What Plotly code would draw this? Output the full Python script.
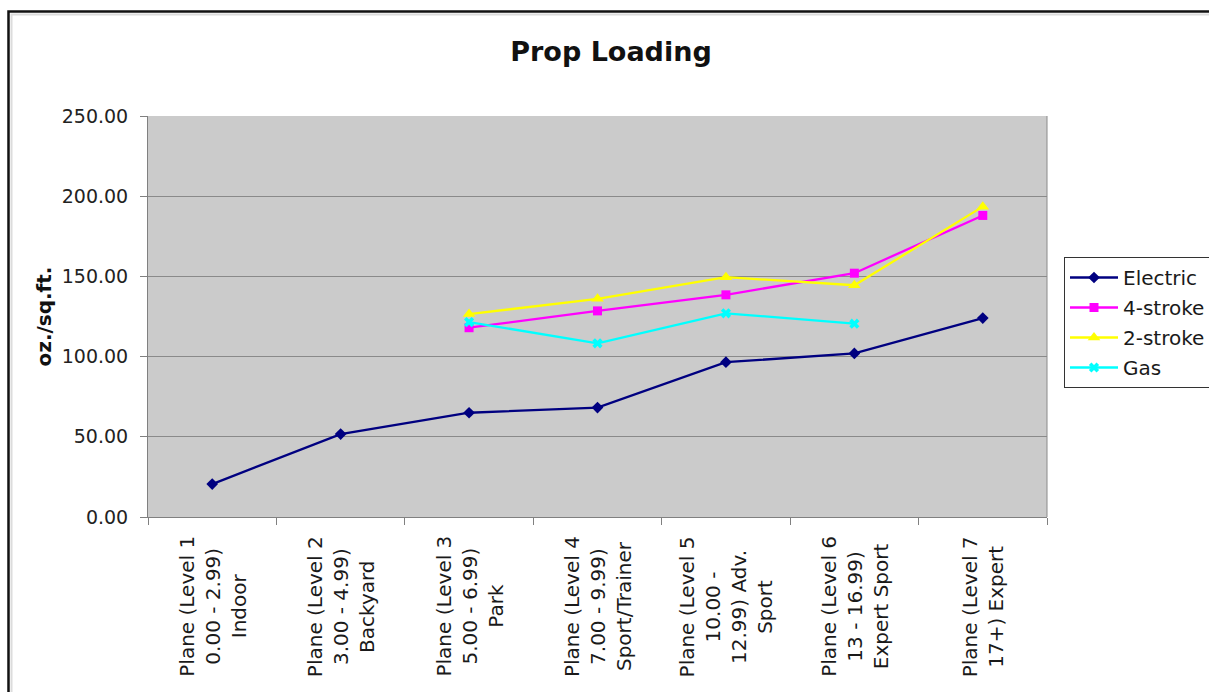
import plotly.graph_objects as go

categories = [
    "Plane (Level 1<br>0.00 - 2.99)<br>Indoor",
    "Plane (Level 2<br>3.00 - 4.99)<br>Backyard",
    "Plane (Level 3<br>5.00 - 6.99)<br>Park",
    "Plane (Level 4<br>7.00 - 9.99)<br>Sport/Trainer",
    "Plane (Level 5<br>10.00 -<br>12.99) Adv.<br>Sport",
    "Plane (Level 6<br>13 - 16.99)<br>Expert Sport",
    "Plane (Level 7<br>17+) Expert",
]
electric = [20.5, 51.7, 65.0, 68.2, 96.5, 102.0, 124.0]
four_stroke = [None, None, 118.0, 128.5, 138.5, 152.0, 188.0]
two_stroke = [None, None, 126.5, 136.0, 149.5, 144.5, 193.5]
gas = [None, None, 121.5, 108.3, 127.0, 120.5, None]

y_ticks = [0, 50, 100, 150, 200, 250]
title_text = "Prop Loading"
y_title = "oz./sq.ft."

FONT = "DejaVu Sans"

series = [
    ("Electric", electric, "#000080", "diamond", 9),
    ("4-stroke", four_stroke, "#FF00FF", "square", 9),
    ("2-stroke", two_stroke, "#FFFF00", "triangle-up", 11),
    ("Gas", gas, "#00FFFF", "x", 9),
]

fig = go.Figure()
for i, (name, vals, color, sym, size) in enumerate(series):
    fig.add_trace(go.Scatter(
        x=categories, y=vals, name=name, mode="lines+markers",
        line=dict(color=color, width=2.3),
        marker=dict(symbol=sym, size=size, color=color, line=dict(width=0)),
        legendgroup="g%d" % i,
    ))

W, H = 1209, 692
L, R, T, B = 148, 162, 116, 175
pw, ph = W - L - R, H - T - B

def px_x(x):
    return (x - L) / pw

def px_y(y):
    return (H - B - y) / ph

annotations = []
for c in categories:
    annotations.append(dict(
        x=c, xref="x", y=0, yref="paper", yanchor="top", xanchor="center",
        yshift=-17, text=c, textangle=-90, showarrow=False, align="center",
        font=dict(family=FONT, size=20, color="#1a1a1a"),
    ))
annotations.append(dict(
    x=px_x(43), xref="paper", y=0.5, yref="paper", text="<b>%s</b>" % y_title,
    textangle=-90, showarrow=False, xanchor="center", yanchor="middle",
    font=dict(family=FONT, size=20, color="#111111"),
))

shapes = [
    dict(type="rect", xref="paper", yref="paper",
         x0=px_x(11.5), x1=px_x(1230), y0=px_y(720), y1=px_y(14.5),
         line=dict(color="#dcdcdc", width=2), fillcolor="rgba(0,0,0,0)", layer="below"),
    dict(type="rect", xref="paper", yref="paper",
         x0=px_x(8.5), x1=px_x(1230), y0=px_y(720), y1=px_y(11.5),
         line=dict(color="#111111", width=2.5), fillcolor="rgba(0,0,0,0)", layer="below"),
    dict(type="line", xref="paper", yref="paper", x0=1, x1=1, y0=0, y1=1,
         line=dict(color="#8a8a8a", width=1)),
]

fig.update_layout(
    width=W, height=H,
    margin=dict(l=L, r=R, t=T, b=B, autoexpand=False),
    paper_bgcolor="white", plot_bgcolor="#cbcbcb",
    font=dict(family=FONT, size=19, color="#1a1a1a"),
    title=dict(text="<b>%s</b>" % title_text, x=611 / W, xanchor="center",
               y=1 - 52 / H, yanchor="middle", yref="container",
               font=dict(family=FONT, size=27, color="#111111")),
    showlegend=True,
    legend=dict(x=px_x(1064), y=px_y(257), xanchor="left", yanchor="top",
                bgcolor="white", bordercolor="#333333", borderwidth=1,
                font=dict(family=FONT, size=20, color="#1a1a1a"),
                traceorder="grouped", tracegroupgap=1, itemwidth=48),
    annotations=annotations, shapes=shapes,
)
fig.update_xaxes(
    type="category", range=[-0.5, 6.5], showticklabels=False,
    showgrid=False, zeroline=False, showline=True, linecolor="#808080", linewidth=1,
    ticks="outside", tickson="boundaries", ticklen=7, tickcolor="#808080", mirror=False,
)
fig.update_yaxes(
    range=[0, 250], tickvals=y_ticks, tickformat=".2f",
    showgrid=True, gridcolor="#8a8a8a", gridwidth=1, zeroline=False,
    showline=True, linecolor="#808080", linewidth=1, mirror=False,
    ticks="outside", ticklen=7, tickcolor="#808080", ticklabelstandoff=8,
    tickfont=dict(family=FONT, size=19, color="#222222"),
)

fig.write_html(
    "out.html",
    config={"displayModeBar": False},
    post_script="document.body.style.margin='0px';document.body.style.overflow='hidden';",
)
